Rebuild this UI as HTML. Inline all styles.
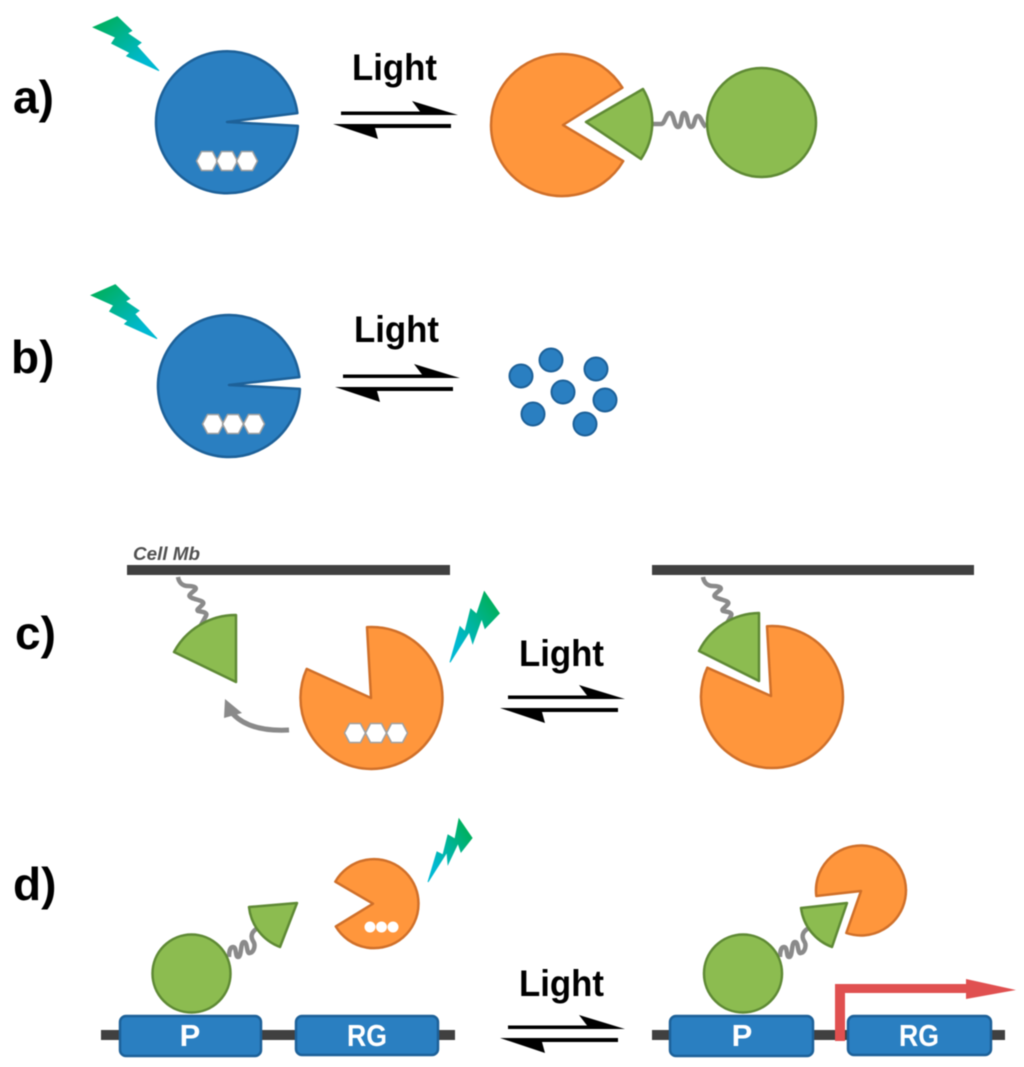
<!DOCTYPE html>
<html><head><meta charset="utf-8">
<style>html,body{margin:0;padding:0;background:#fff}svg{display:block;filter:blur(.45px)}
text{font-family:"Liberation Sans",sans-serif;font-weight:bold}</style></head>
<body>
<svg xmlns="http://www.w3.org/2000/svg" width="1024" height="1067" viewBox="0 0 1024 1067">
<defs>
<linearGradient id="b1" x1="0" y1="0" x2="1" y2="1"><stop offset=".1" stop-color="#00b060"/><stop offset=".8" stop-color="#00b9d2"/></linearGradient>
<linearGradient id="b2" x1="1" y1="0" x2="0" y2="1"><stop offset=".15" stop-color="#00b060"/><stop offset=".8" stop-color="#00b9d2"/></linearGradient>
<g id="arr" fill="#000"><path d="M341,111.5H420L412,101L458,115H341Z"/><path d="M333,124H451V128H375L378,139Z"/></g>
<polygon id="hex" points="-10.5,0 -5.5,-9.5 5.5,-9.5 10.5,0 5.5,9.5 -5.5,9.5" fill="#fff" stroke="#a0a0a0" stroke-width="1.5"/>
<polygon id="boltA" points="117.3,16.7 131.7,30.7 127.3,33.3 141,42.7 136.7,46 159,70.7 126.7,56 130,52.7 111.7,43.3 115.7,37.3 93.3,27.3" fill="url(#b1)" stroke="url(#b1)" stroke-width="1"/>
</defs>

<g fill="#000" font-size="46">
<text x="13" y="113">a)</text>
<text x="11" y="373">b)</text>
<text x="15" y="649">c)</text>
<text x="13" y="900">d)</text>
</g>
<g fill="#000" font-size="37">
<text x="352" y="80" textLength="85" lengthAdjust="spacingAndGlyphs">Light</text>
<text x="354" y="342" textLength="85" lengthAdjust="spacingAndGlyphs">Light</text>
<text x="519" y="666" textLength="85" lengthAdjust="spacingAndGlyphs">Light</text>
<text x="519" y="996" textLength="85" lengthAdjust="spacingAndGlyphs">Light</text>
</g>
<use href="#arr"/>
<use href="#arr" x="2" y="263"/>
<use href="#arr" x="167" y="584"/>
<use href="#arr" x="167" y="914"/>

<!-- a -->
<use href="#boltA"/>
<path d="M227,122L297.4,113.1A71,71 0 1 0 297.9,125.9Z" fill="#2a7fc1" stroke="#1d6199" stroke-width="2.5" stroke-linejoin="round"/>
<use href="#hex" x="207" y="161"/><use href="#hex" x="227" y="161"/><use href="#hex" x="247" y="161"/>
<path d="M563,125L622.4,87.7A71,71 0 1 0 623.2,161.1Z" fill="#ff963c" stroke="#d0702a" stroke-width="2.5" stroke-linejoin="round"/>
<path d="M653,124L661,124C665,124 666,113 670,113C674,113 674,127 678,127C682,127 681,113 684,113C688,113 687,127 691,127C695,127 694,116 698,116C701,116 702,124 706,127" fill="none" stroke="#8a8a8a" stroke-width="4.5"/>
<path d="M586,122L643,89A65,65 0 0 1 641,159Z" fill="#8cbc50" stroke="#5f8a35" stroke-width="2.5" stroke-linejoin="round"/>
<circle cx="761.5" cy="122.5" r="54.5" fill="#8cbc50" stroke="#5f8a35" stroke-width="2.5"/>

<!-- b -->
<use href="#boltA" x="-2" y="268"/>
<path d="M229,385L299.4,377.1A71,71 0 1 0 299.9,388.9Z" fill="#2a7fc1" stroke="#1d6199" stroke-width="2.5" stroke-linejoin="round"/>
<use href="#hex" x="213" y="424"/><use href="#hex" x="233" y="424"/><use href="#hex" x="254" y="424"/>
<g fill="#2a7fc1" stroke="#1d6199" stroke-width="2">
<circle cx="521" cy="376" r="11.5"/><circle cx="551" cy="360" r="11.5"/><circle cx="596" cy="369" r="11.5"/>
<circle cx="563" cy="392" r="11.5"/><circle cx="605" cy="400" r="11.5"/><circle cx="533" cy="414" r="11.5"/><circle cx="585" cy="424" r="11.5"/>
</g>

<!-- c -->
<rect x="127" y="565" width="323" height="10" fill="#404040"/>
<text x="133" y="560" font-size="18.5" font-style="italic" fill="#505050" textLength="67" lengthAdjust="spacingAndGlyphs">Cell Mb</text>
<path id="sp" d="M178,577C179,583 183,586 188,586C192,586 198,587 195,590C190,594 187,596 192,598C197,600 205,601 203,604C200,608 196,609 198,611C202,612 208,612 206,616L201,625" fill="none" stroke="#8a8a8a" stroke-width="4.5"/>
<path d="M236,682L174,652A70,70 0 0 1 236,615Z" fill="#8cbc50" stroke="#5f8a35" stroke-width="2.5" stroke-linejoin="round"/>
<path d="M371,698L367,627.1A71,71 0 1 1 306.7,668.9Z" fill="#ff963c" stroke="#d0702a" stroke-width="2.5" stroke-linejoin="round"/>
<use href="#hex" x="355" y="733"/><use href="#hex" x="376" y="733"/><use href="#hex" x="397" y="733"/>
<polygon points="484.3,591.7 499.3,613.3 485,628.3 481.7,618.3 472.7,643.3 469.3,631.7 450,662.3 460,626.7 465,631.7 470.7,609 476.7,614.3" fill="url(#b2)" stroke="url(#b2)" stroke-width="1"/>
<path d="M289,730Q250,732 233,714" fill="none" stroke="#8a8a8a" stroke-width="5"/>
<polygon points="225,699 224,718 242,713" fill="#8a8a8a"/>

<rect x="652" y="565" width="322" height="10" fill="#404040"/>
<use href="#sp" x="525"/>
<path d="M759,681L699,651A68,68 0 0 1 759,613Z" fill="#8cbc50" stroke="#5f8a35" stroke-width="2.5" stroke-linejoin="round"/>
<path d="M771,696L767,626.2A71,71 0 1 1 707.3,667.7Z" fill="#ff963c" stroke="#d0702a" stroke-width="2.5" stroke-linejoin="round"/>

<!-- d left -->
<rect x="101" y="1030" width="354" height="10" fill="#404040"/>
<rect x="120" y="1016" width="141" height="40" rx="6" fill="#2a7fc1" stroke="#1d6199" stroke-width="2.5"/>
<rect x="296" y="1016" width="142" height="39" rx="6" fill="#2a7fc1" stroke="#1d6199" stroke-width="2.5"/>
<g fill="#fff" font-size="31" text-anchor="middle">
<text x="190" y="1046">P</text><text x="367" y="1046" textLength="40" lengthAdjust="spacingAndGlyphs">RG</text>
</g>
<path id="sp2" d="M229,957C229,952 230,947 233,947C237,947 235,957 238,957C242,957 240,942 244,942C248,942 246,954 250,953C254,952 256,945 253,941C250,936 252,931 258,928" fill="none" stroke="#8a8a8a" stroke-width="4.5"/>
<circle cx="191.5" cy="973.5" r="39" fill="#8cbc50" stroke="#5f8a35" stroke-width="2.5"/>
<path d="M297,903L249,907A48,48 0 0 0 280,947Z" fill="#8cbc50" stroke="#5f8a35" stroke-width="2.5" stroke-linejoin="round"/>
<path d="M373,903.7L335.3,881.7A44.5,44.5 0 1 1 335.8,926.5Z" fill="#ff963c" stroke="#d0702a" stroke-width="2.5" stroke-linejoin="round"/>
<circle cx="370" cy="927" r="5.5" fill="#fff"/><circle cx="381.5" cy="927" r="5.5" fill="#fff"/><circle cx="393" cy="927" r="5.5" fill="#fff"/>
<polygon points="459,819 472,838 461,852 458,843 448,864 447,852 428,882 437,852 443,855 448,835 455,839" fill="url(#b2)" stroke="url(#b2)" stroke-width="1"/>

<!-- d right -->
<rect x="652" y="1030" width="353" height="10" fill="#404040"/>
<rect x="670" y="1016" width="143" height="40" rx="6" fill="#2a7fc1" stroke="#1d6199" stroke-width="2.5"/>
<rect x="848" y="1016" width="143" height="39" rx="6" fill="#2a7fc1" stroke="#1d6199" stroke-width="2.5"/>
<g fill="#fff" font-size="31" text-anchor="middle">
<text x="742" y="1046">P</text><text x="919" y="1046" textLength="40" lengthAdjust="spacingAndGlyphs">RG</text>
</g>
<use href="#sp2" x="551"/>
<circle cx="743" cy="973.5" r="39" fill="#8cbc50" stroke="#5f8a35" stroke-width="2.5"/>
<path d="M847,903L801,908A48,48 0 0 0 832,947Z" fill="#8cbc50" stroke="#5f8a35" stroke-width="2.5" stroke-linejoin="round"/>
<path d="M861,891L816.3,896A45,45 0 1 1 846.3,933Z" fill="#ff963c" stroke="#d0702a" stroke-width="2.5" stroke-linejoin="round"/>
<polygon points="835,984 966,984 966,979 1016,990 966,999 966,993 845,993 845,1041 835,1041" fill="#e05050"/>
</svg>
</body></html>
